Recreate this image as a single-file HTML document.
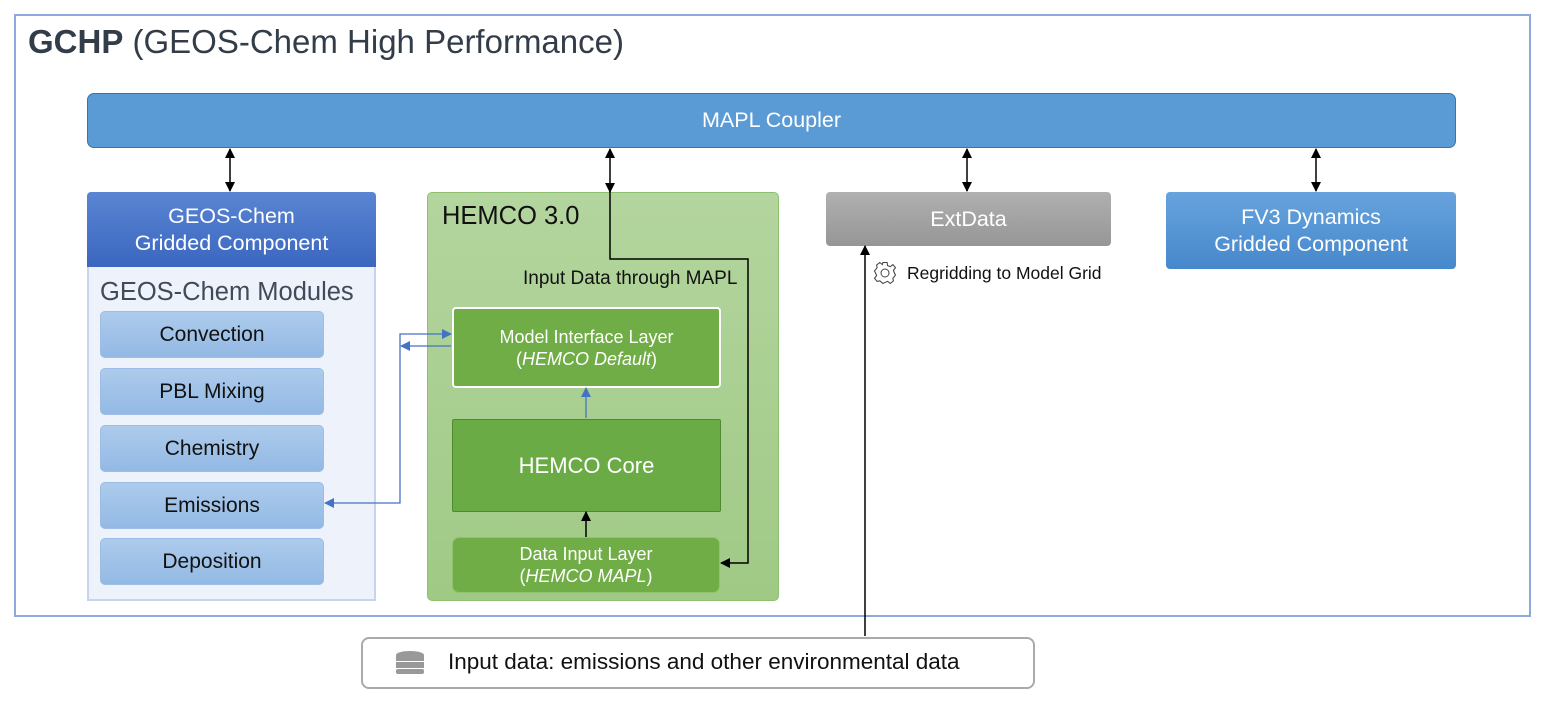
<!DOCTYPE html>
<html><head><meta charset="utf-8"><style>
body{margin:0;width:1544px;height:702px;background:#fff;position:relative;font-family:"Liberation Sans",sans-serif;overflow:hidden}
.a{position:absolute;box-sizing:border-box}
.c{display:flex;align-items:center;justify-content:center;text-align:center;flex-direction:column}
.m{left:100px;width:224px;height:47px;background:linear-gradient(#adcbec,#93b9e4);border:1px solid #9dbde6;border-radius:5px;font-size:21px;color:#111}
</style></head><body>
<div class="a" style="left:14px;top:14px;width:1517px;height:603px;border:2px solid #8fa9dc"></div>
<div class="a" style="left:28px;top:23px;font-size:33px;color:#333d4a;white-space:nowrap"><b>GCHP</b> (GEOS-Chem High Performance)</div>
<div class="a c" style="left:87px;top:93px;width:1369px;height:55px;background:#5b9bd5;border:1px solid #41719c;border-radius:7px;color:#fff;font-size:21.5px">MAPL Coupler</div>
<div class="a c" style="left:87px;top:192px;width:289px;height:76px;background:linear-gradient(#5a85d2,#3a66c0);border-radius:4px 4px 0 0;color:#fff;font-size:21.5px;line-height:27px">GEOS-Chem<br>Gridded Component</div>
<div class="a" style="left:87px;top:267px;width:289px;height:334px;background:#eef3fb;border:2px solid #c5d5ee;border-top:none"></div>
<div class="a" style="left:100px;top:278px;font-size:25.5px;color:#404a5a;white-space:nowrap">GEOS-Chem Modules</div>
<div class="a c m" style="top:311px">Convection</div>
<div class="a c m" style="top:368px">PBL Mixing</div>
<div class="a c m" style="top:425px">Chemistry</div>
<div class="a c m" style="top:482px">Emissions</div>
<div class="a c m" style="top:538px">Deposition</div>
<div class="a" style="left:427px;top:192px;width:352px;height:409px;background:linear-gradient(#b3d59e,#a0c985);border:1px solid #8fc06f;border-radius:5px"></div>
<div class="a" style="left:442px;top:202px;font-size:25.5px;color:#111">HEMCO 3.0</div>
<div class="a" style="left:523px;top:268px;font-size:19px;color:#111;white-space:nowrap">Input Data through MAPL</div>
<div class="a c" style="left:452px;top:307px;width:269px;height:81px;background:#70ad47;border:2px solid #fff;border-radius:4px;color:#fff;font-size:18px;line-height:22px">Model Interface Layer<br><span>(<i>HEMCO Default</i>)</span></div>
<div class="a c" style="left:452px;top:419px;width:269px;height:93px;background:#6aab45;border:1px solid #4e8a30;border-radius:2px;color:#fff;font-size:22px">HEMCO Core</div>
<div class="a c" style="left:452px;top:537px;width:268px;height:56px;background:#70ad47;border:1px solid #8fc46f;border-radius:7px;color:#fff;font-size:18px;line-height:22px">Data Input Layer<br><span>(<i>HEMCO MAPL</i>)</span></div>
<div class="a c" style="left:826px;top:192px;width:285px;height:54px;background:linear-gradient(#b0b0b0,#969696);border-radius:4px;color:#fff;font-size:21.5px">ExtData</div>
<div class="a c" style="left:1166px;top:192px;width:290px;height:77px;background:linear-gradient(#67a3dd,#4688cc);border-radius:4px;color:#fff;font-size:21.5px;line-height:27px">FV3 Dynamics<br>Gridded Component</div>
<div class="a" style="left:907px;top:263px;font-size:17.5px;color:#111;white-space:nowrap">Regridding to Model Grid</div>
<div class="a" style="left:361px;top:637px;width:674px;height:52px;border:2px solid #aaa;border-radius:8px"></div>
<div class="a" style="left:448px;top:649px;font-size:22.5px;color:#111;white-space:nowrap">Input data: emissions and other environmental data</div>
<svg class="a" style="left:0;top:0" width="1544" height="702">
<defs>
<marker id="k" markerWidth="10" markerHeight="10" refX="9" refY="5" orient="auto-start-reverse" markerUnits="userSpaceOnUse"><path d="M0,0L10,5L0,10z" fill="#000"/></marker>
<marker id="b" markerWidth="10" markerHeight="10" refX="9" refY="5" orient="auto-start-reverse" markerUnits="userSpaceOnUse"><path d="M0,0L10,5L0,10z" fill="#4472c4"/></marker>
</defs>
<g stroke="#000" stroke-width="1.5" fill="none">
<line x1="230" y1="149" x2="230" y2="191" marker-start="url(#k)" marker-end="url(#k)"/>
<line x1="967" y1="149" x2="967" y2="191" marker-start="url(#k)" marker-end="url(#k)"/>
<line x1="1316" y1="149" x2="1316" y2="191" marker-start="url(#k)" marker-end="url(#k)"/>
<polyline points="610,149 610,259 748,259 748,563 721,563" marker-start="url(#k)" marker-end="url(#k)"/>
<line x1="610" y1="183" x2="610" y2="192" marker-end="url(#k)"/>
<line x1="586" y1="537" x2="586" y2="512" marker-end="url(#k)"/>
<line x1="865" y1="636" x2="865" y2="246" marker-end="url(#k)"/>
</g>
<g stroke="#4472c4" stroke-width="1.3" fill="none">
<polyline points="325,503 400,503 400,334 451,334" marker-start="url(#b)" marker-end="url(#b)"/>
<line x1="451" y1="346" x2="401" y2="346" marker-end="url(#b)"/>
<line x1="586" y1="418" x2="586" y2="388" marker-end="url(#b)"/>
</g>
<g transform="translate(885,273)" fill="none" stroke="#444" stroke-width="1">
<circle r="4"/>
<path d="M-2,-10L2,-10L2.5,-7L5,-6L7.5,-8L10,-5L8,-2.5L9,0L10,2L7.5,5L8,7.5L5,10L2.5,8L0,9L-2,10L-5,7.5L-7.5,8L-10,5L-8,2.5L-9,0L-10,-2L-7.5,-5L-8,-7.5L-5,-10L-2.5,-8z" transform="scale(1.05)"/>
</g>
<g fill="#999">
<ellipse cx="410" cy="655" rx="14" ry="4"/>
<rect x="396" y="655" width="28" height="6"/>
<rect x="396" y="662" width="28" height="6"/>
<rect x="396" y="669" width="28" height="5" rx="2"/>
</g>
</svg>
</body></html>
